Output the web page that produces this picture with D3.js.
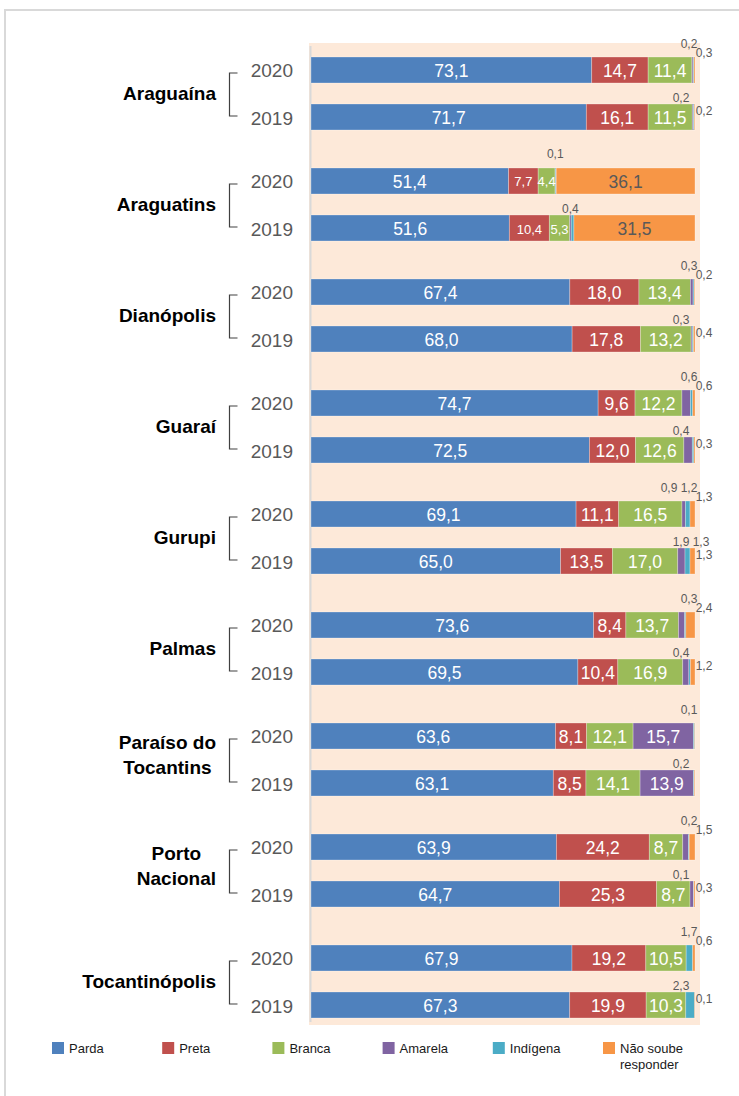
<!DOCTYPE html>
<html>
<head>
<meta charset="utf-8">
<style>
body, html {
	margin: 0;
	background: #fff;
}
svg {
	display: block;
	font-family: "Liberation Sans", Arial, sans-serif;
}
</style>
</head>
<body>
<div id="chart"></div>

<script src="https://cdn.jsdelivr.net/npm/d3@7"></script>
<script>

// municipalities, each with a 2020 and a 2019 bar
const groups = ["Araguaína", "Araguatins", "Dianópolis", "Guaraí", "Gurupi", "Palmas", "Paraíso do Tocantins", "Porto Nacional", "Tocantinópolis"];
const groupLines = [["Araguaína"], ["Araguatins"], ["Dianópolis"], ["Guaraí"], ["Gurupi"], ["Palmas"], ["Paraíso do", "Tocantins"], ["Porto", "Nacional"], ["Tocantinópolis"]];
const years = ["2020", "2019"];
const categories = ["Parda", "Preta", "Branca", "Amarela", "Indígena", "Não soube responder"];
const legendLines = [["Parda"], ["Preta"], ["Branca"], ["Amarela"], ["Indígena"], ["Não soube", "responder"]];

// values in %, order: group by group, 2020 then 2019
const parda    = [73.1, 71.7, 51.4, 51.6, 67.4, 68.0, 74.7, 72.5, 69.1, 65.0, 73.6, 69.5, 63.6, 63.1, 63.9, 64.7, 67.9, 67.3];
const preta    = [14.7, 16.1, 7.7, 10.4, 18.0, 17.8, 9.6, 12.0, 11.1, 13.5, 8.4, 10.4, 8.1, 8.5, 24.2, 25.3, 19.2, 19.9];
const branca   = [11.4, 11.5, 4.4, 5.3, 13.4, 13.2, 12.2, 12.6, 16.5, 17.0, 13.7, 16.9, 12.1, 14.1, 8.7, 8.7, 10.5, 10.3];
const amarela  = [0.3, 0.3, 0.1, 0.4, 0.7, 0.3, 2.2, 2.2, 0.9, 1.9, 1.6, 1.6, 15.7, 13.9, 1.5, 0.9, 0, 0];
const indigena = [0.2, 0.2, 0.2, 0.7, 0.3, 0.3, 0.6, 0.4, 1.2, 1.3, 0.3, 0.4, 0.3, 0.2, 0.2, 0.1, 1.7, 2.3];
const naoSoube = [0.3, 0.2, 36.1, 31.5, 0.2, 0.4, 0.6, 0.3, 1.3, 1.3, 2.4, 1.2, 0.1, 0.2, 1.5, 0.3, 0.6, 0.1];

// segments that carry no value label in the original (values estimated from width)
const unlabeled = [
	"Araguaína|2020|Amarela", "Araguaína|2019|Amarela",
	"Araguatins|2020|Indígena", "Araguatins|2019|Indígena",
	"Dianópolis|2020|Amarela", "Dianópolis|2019|Indígena",
	"Guaraí|2020|Amarela", "Guaraí|2019|Amarela",
	"Palmas|2020|Amarela", "Palmas|2019|Amarela",
	"Paraíso do Tocantins|2020|Indígena", "Paraíso do Tocantins|2019|Não soube responder",
	"Porto Nacional|2020|Amarela", "Porto Nacional|2019|Amarela"
];
// groups whose inside labels were set smaller
const compactGroups = ["Araguatins"];

const colors = d3.scaleOrdinal()
	.domain(categories)
	.range(["#4f81bd", "#c0504d", "#9bbb59", "#8064a2", "#4bacc6", "#f79646"]);

const W = 739, H = 1096;
const PLOT = {left: 309, right: 700, top: 43, bottom: 1025};
const SMALL = 3; // below this a value goes outside the bar

const series = [parda, preta, branca, amarela, indigena, naoSoube];
var rows = [];
groups.forEach((g, gi) => {
	years.forEach((y, yi) => {
		const row = {group: g, year: y};
		categories.forEach((c, ci) => { row[c] = series[ci][gi * 2 + yi]; });
		rows.push(row);
	});
});

const stacked = d3.stack()
	.keys(categories)
	.offset(d3.stackOffsetExpand)(rows);

const x = d3.scaleLinear().domain([0, 1]).range([311, 695]);
const yGroup = d3.scaleBand().domain(groups).range([38, 1037]);
const yYear = d3.scaleBand().domain(years).range([19, 92]).paddingInner(0.447);

const barTop = (d) => yGroup(d.group) + yYear(d.year);
const bw = yYear.bandwidth();

var svg = d3.select("#chart").append("svg")
	.attr("width", W)
	.attr("height", H);

// outer frame
svg.append("path")
	.attr("d", `M5,${H} V10 H${W}`)
	.attr("fill", "none")
	.attr("stroke", "#d9d9d9")
	.attr("stroke-width", 2);

// plot area
svg.append("rect")
	.attr("x", PLOT.left)
	.attr("y", PLOT.top)
	.attr("width", PLOT.right - PLOT.left)
	.attr("height", PLOT.bottom - PLOT.top)
	.attr("fill", "#fde9d9");

svg.append("line")
	.attr("x1", 310.5).attr("x2", 310.5)
	.attr("y1", 46).attr("y2", 1022)
	.attr("stroke", "#d9d9d9")
	.attr("stroke-width", 2);

// bars
svg.append("g").selectAll("g")
	.data(stacked)
	.join("g")
		.attr("fill", (s) => colors(s.key))
	.selectAll("rect")
	.data((s) => s.map((p) => ({key: s.key, p: p, d: p.data})))
	.join("rect")
		.attr("x", (e) => x(e.p[0]))
		.attr("y", (e) => barTop(e.d))
		.attr("width", (e) => Math.max(0, x(e.p[1]) - x(e.p[0])))
		.attr("height", bw)
		.attr("stroke", "rgba(255,255,255,0.35)")
		.attr("stroke-width", 0.8);

// value labels
var labels = svg.append("g").attr("class", "labels");

rows.forEach((d, ri) => {
	const top = barTop(d);
	const is2020 = d.year === "2020";
	const segs = categories.map((c) => {
		const s = stacked.find((k) => k.key === c)[ri];
		return {key: c, v: d[c], x0: x(s[0]), x1: x(s[1])};
	});
	const end = x(1);
	const lastBig = d3.max(segs.map((s, i) => s.v >= SMALL ? i : -1));
	const endCluster = [];

	segs.forEach((s, i) => {
		if (s.v <= 0) return;
		if (unlabeled.includes(`${d.group}|${d.year}|${s.key}`)) return;
		const txt = d3.format(".1f")(s.v).replace(".", ",");
		if (s.v >= SMALL) {
			const compact = compactGroups.includes(d.group) && s.v < 12;
			labels.append("text")
				.attr("x", (s.x0 + s.x1) / 2)
				.attr("y", top + bw / 2 + 1)
				.attr("text-anchor", "middle")
				.attr("dominant-baseline", "central")
				.attr("font-size", compact ? 13 : 17.5)
				.attr("fill", s.key === "Não soube responder" ? "#595959" : "#fff")
				.text(txt);
		} else if (i < lastBig) {
			// small segment in the middle of the bar: label above it
			labels.append("text")
				.attr("x", (s.x0 + s.x1) / 2)
				.attr("y", top + (is2020 ? -14 : -6))
				.attr("text-anchor", "middle")
				.attr("dominant-baseline", "central")
				.attr("font-size", 12)
				.attr("fill", "#595959")
				.text(txt);
		} else {
			endCluster.push(txt);
		}
	});

	// small segments at the end of the bar
	const n = endCluster.length;
	endCluster.forEach((txt, k) => {
		let lx, ly;
		if (n > 1 && k === n - 1) {
			lx = end + 9;
			ly = top + (is2020 ? -4 : 7);
		} else {
			const j = (n > 1 ? n - 2 : 0) - k;
			const shift = is2020 ? -6 : -14 + 20 * Math.max(0, n - 2);
			lx = end + shift - 20 * j;
			ly = top + (is2020 ? -13 : -6);
		}
		labels.append("text")
			.attr("x", lx)
			.attr("y", ly)
			.attr("text-anchor", "middle")
			.attr("dominant-baseline", "central")
			.attr("font-size", 12)
			.attr("fill", "#595959")
			.text(txt);
	});
});

// category axis: years, brackets and municipality names
var axis = svg.append("g").attr("class", "cat-axis");

groups.forEach((g, gi) => {
	const y20 = yGroup(g) + yYear("2020") + bw / 2;
	const y19 = yGroup(g) + yYear("2019") + bw / 2;

	years.forEach((yr) => {
		axis.append("text")
			.attr("x", 293)
			.attr("y", yGroup(g) + yYear(yr) + bw / 2 + 1)
			.attr("text-anchor", "end")
			.attr("dominant-baseline", "central")
			.attr("font-size", 19)
			.attr("fill", "#595959")
			.text(yr);
	});

	axis.append("path")
		.attr("d", `M237.5,${y20 + 3} H229.5 V${y19 - 1} H237.5`)
		.attr("fill", "none")
		.attr("stroke", "#404040")
		.attr("stroke-width", 1.2);

	const lines = groupLines[gi];
	const mid = (y20 + y19) / 2 - (lines.length > 1 ? 5 : 0);
	const name = axis.append("text")
		.attr("font-size", 19)
		.attr("font-weight", "bold")
		.attr("fill", "#000")
		.attr("text-anchor", "middle");
	lines.forEach((ln, li) => {
		name.append("tspan")
			.attr("y", mid + (li - (lines.length - 1) / 2) * 25)
			.attr("dominant-baseline", "central")
			.text(ln);
	});
	const wMax = d3.max(name.selectAll("tspan").nodes(), (t) => t.getComputedTextLength());
	name.selectAll("tspan").attr("x", 216 - wMax / 2);
});

// legend
const lx = d3.scalePoint().domain(categories).range([52, 603]);
var legend = svg.append("g").attr("class", "legend")
	.selectAll("g")
	.data(categories)
	.join("g")
		.attr("transform", (c) => `translate(${lx(c)},1042)`);

legend.append("rect")
	.attr("width", 12)
	.attr("height", 12)
	.attr("fill", (c) => colors(c));

legend.append("text")
	.attr("font-size", 13)
	.attr("fill", "#1a1a1a")
	.each(function(c, i) {
		legendLines[i].forEach((ln, li) => {
			d3.select(this).append("tspan")
				.attr("x", 17)
				.attr("y", 6 + li * 16)
				.attr("dominant-baseline", "central")
				.text(ln);
		});
	});

</script>
</body>
</html>
